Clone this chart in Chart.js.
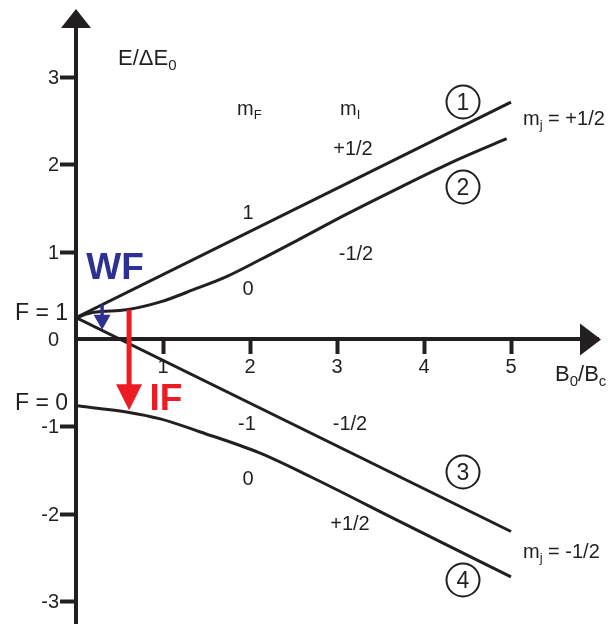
<!DOCTYPE html>
<html>
<head>
<meta charset="utf-8">
<script src="https://cdn.jsdelivr.net/npm/chart.js@4.4.1/dist/chart.umd.min.js"></script>
<style>
  html, body { margin: 0; padding: 0; background: #fff; }
  #wrap { width: 609px; height: 624px; }
</style>
</head>
<body>
<div id="wrap"><canvas id="breitRabi"></canvas></div>
<script>
// ── Breit-Rabi diagram (E/ΔE0 vs B0/Bc) ──

const xTicks = [1, 2, 3, 4, 5];
const yTicks = [-3, -2, -1, 0, 1, 2, 3];

// level 1 : mF = 1
const lvl1X = [0, 5.0];
const lvl1Y = [0.25, 2.72];
// level 2 : mF = 0 (upper)
const lvl2X = [0, 0.2, 0.58, 0.97, 1.35, 1.73, 2.11, 2.57, 3.1, 3.72, 4.3, 4.95];
const lvl2Y = [0.25, 0.31, 0.34, 0.43, 0.57, 0.72, 0.91, 1.15, 1.43, 1.74, 2.02, 2.30];
// level 3 : mF = -1
const lvl3X = [0, 5.0];
const lvl3Y = [0.25, -2.20];
// level 4 : mF = 0 (lower)
const lvl4X = [0, 0.58, 0.97, 1.43, 2.11, 2.69, 3.73, 5.0];
const lvl4Y = [-0.76, -0.83, -0.91, -1.06, -1.30, -1.57, -2.09, -2.72];

// transitions (x, from, to)
const wfArrow = [0.30, 0.40, 0.11];
const ifArrow = [0.61, 0.34, -0.81];

const INK = '#231f20';
const FONT = '"Liberation Sans", Arial, sans-serif';

const pts = (xs, ys) => xs.map((x, i) => ({ x, y: ys[i] }));
const lineDs = (xs, ys, curved) => ({
  data: pts(xs, ys), borderColor: INK, borderWidth: 3, pointRadius: 0,
  tension: curved ? 0.4 : 0, cubicInterpolationMode: curved ? 'monotone' : 'default', fill: false
});

function txt(ctx, parts, x, y, align) {
  // parts: [text, size, dy, bold]
  let w = 0;
  parts.forEach(p => { ctx.font = (p[3] ? 'bold ' : '') + p[1] + 'px ' + FONT; w += ctx.measureText(p[0]).width; });
  let cx = align === 'right' ? x - w : align === 'center' ? x - w / 2 : x;
  parts.forEach(p => {
    ctx.font = (p[3] ? 'bold ' : '') + p[1] + 'px ' + FONT;
    ctx.fillText(p[0], cx, y + (p[2] || 0));
    cx += ctx.measureText(p[0]).width;
  });
}

function vArrow(ctx, x, y0, y1, color, shaft, headW, headH) {
  ctx.save();
  ctx.strokeStyle = color; ctx.fillStyle = color; ctx.lineWidth = shaft;
  ctx.beginPath(); ctx.moveTo(x, y0); ctx.lineTo(x, y1 - headH + 1); ctx.stroke();
  ctx.beginPath(); ctx.moveTo(x - headW / 2, y1 - headH); ctx.lineTo(x + headW / 2, y1 - headH); ctx.lineTo(x, y1);
  ctx.closePath(); ctx.fill();
  ctx.restore();
}

const decor = {
  id: 'decor',
  afterDraw(chart) {
    const ctx = chart.ctx, sx = chart.scales.x, sy = chart.scales.y;
    const ox = sx.getPixelForValue(0), oy = sy.getPixelForValue(0);
    ctx.save();
    ctx.fillStyle = INK;
    // axis arrow heads
    ctx.beginPath(); ctx.moveTo(ox - 15, 28); ctx.lineTo(ox + 15, 28); ctx.lineTo(ox, 9); ctx.closePath(); ctx.fill();
    ctx.beginPath(); ctx.moveTo(580, oy - 16); ctx.lineTo(580, oy + 16); ctx.lineTo(601, oy); ctx.closePath(); ctx.fill();

    // y tick labels, left of the axis
    ctx.textBaseline = 'middle';
    yTicks.forEach(v => txt(ctx, [[String(v), 20]], ox - 17, sy.getPixelForValue(v) + 1, 'right'));

    ctx.textBaseline = 'alphabetic';
    txt(ctx, [['E/\u0394E', 22], ['0', 15, 5]], 118, 65);
    txt(ctx, [['B', 22], ['0', 15, 5], ['/B', 22], ['c', 15, 5]], 555, 381);

    txt(ctx, [['m', 20], ['F', 13, 4]], 237, 115);
    txt(ctx, [['m', 20], ['I', 13, 4]], 340, 115);
    txt(ctx, [['+1/2', 20]], 353, 155, 'center');
    txt(ctx, [['1', 20]], 248, 219, 'center');
    txt(ctx, [['-1/2', 20]], 356, 260, 'center');
    txt(ctx, [['0', 20]], 248, 295, 'center');
    txt(ctx, [['-1', 20]], 247, 430, 'center');
    txt(ctx, [['-1/2', 20]], 350, 430, 'center');
    txt(ctx, [['0', 20]], 248, 485, 'center');
    txt(ctx, [['+1/2', 20]], 350, 530, 'center');

    txt(ctx, [['F = 1', 23]], 68, 320, 'right');
    txt(ctx, [['F = 0', 23]], 68, 410, 'right');

    txt(ctx, [['m', 20], ['j', 13, 4], [' = +1/2', 20]], 523, 125);
    txt(ctx, [['m', 20], ['j', 13, 4], [' = -1/2', 20]], 523, 558);

    // circled level numbers
    [[1, 102], [2, 187], [3, 472], [4, 580]].forEach(([n, cy]) => {
      ctx.lineWidth = 2; ctx.strokeStyle = INK;
      ctx.beginPath(); ctx.arc(463, cy, 16.5, 0, Math.PI * 2); ctx.stroke();
      txt(ctx, [[String(n), 23]], 463, cy + 8, 'center');
    });

    // WF / IF transitions
    vArrow(ctx, sx.getPixelForValue(wfArrow[0]), sy.getPixelForValue(wfArrow[1]), sy.getPixelForValue(wfArrow[2]), '#2e3192', 3.5, 17, 15);
    vArrow(ctx, sx.getPixelForValue(ifArrow[0]), sy.getPixelForValue(ifArrow[1]), sy.getPixelForValue(ifArrow[2]), '#ed1c24', 5, 26, 26);
    ctx.fillStyle = '#2e3192';
    txt(ctx, [['WF', 37, 0, true]], 115, 279, 'center');
    ctx.fillStyle = '#ed1c24';
    txt(ctx, [['IF', 37, 0, true]], 166, 410, 'center');
    ctx.restore();
  }
};

const zeroPad = s => { s.paddingLeft = 0; s.paddingRight = 0; s.paddingTop = 0; s.paddingBottom = 0; };

new Chart(document.getElementById('breitRabi').getContext('2d'), {
  type: 'line',
  data: {
    datasets: [
      lineDs(lvl1X, lvl1Y, false),
      lineDs(lvl2X, lvl2Y, true),
      lineDs(lvl3X, lvl3Y, false),
      lineDs(lvl4X, lvl4Y, true)
    ]
  },
  options: {
    responsive: true, maintainAspectRatio: false, animation: false, devicePixelRatio: 1,
    layout: { padding: { left: 76, right: 11, top: 20, bottom: 0 } },
    plugins: { legend: { display: false }, tooltip: { enabled: false } },
    scales: {
      x: {
        type: 'linear', min: 0, max: 6, position: { y: 0 },
        afterBuildTicks: s => { s.ticks = xTicks.map(v => ({ value: v })); },
        afterFit: s => { s.height = 0; zeroPad(s); },
        border: { display: true, color: INK, width: 4 },
        grid: { drawOnChartArea: false, drawTicks: true, tickLength: 13, tickWidth: 4, tickColor: INK },
        ticks: { color: INK, padding: 3, maxRotation: 0, font: { family: FONT, size: 20 } }
      },
      y: {
        type: 'linear', min: -3.26, max: 3.66, position: { x: 0 },
        afterBuildTicks: s => { s.ticks = yTicks.map(v => ({ value: v })); },
        afterFit: s => { s.width = 0; zeroPad(s); },
        border: { display: true, color: INK, width: 4 },
        grid: { drawOnChartArea: false, drawTicks: true, tickLength: 14, tickWidth: 4,
                tickColor: c => (c.tick && c.tick.value === 0) ? 'rgba(0,0,0,0)' : INK },
        ticks: { display: false }
      }
    }
  },
  plugins: [decor]
});
</script>
</body>
</html>
